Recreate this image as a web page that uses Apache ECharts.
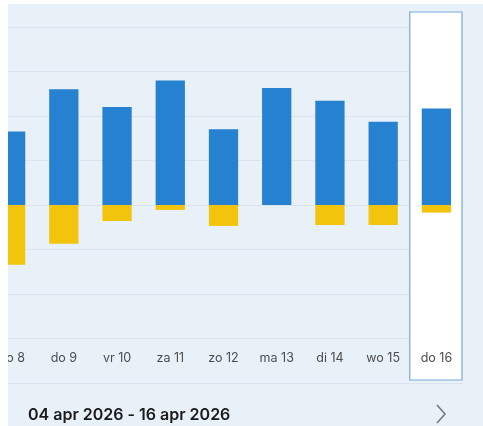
<!DOCTYPE html>
<html>
<head>
<meta charset="utf-8">
<script src="https://cdn.jsdelivr.net/npm/echarts@6/dist/echarts.min.js"></script>
<style>
  html, body { margin: 0; padding: 0; background: #ffffff; width: 483px; height: 426px; overflow: hidden; }
  #panel { position: absolute; left: 8px; top: 4px; width: 475px; height: 422px; background: #e8f0f8; overflow: hidden; }
  #chart { position: absolute; left: -24px; top: 0; width: 499px; height: 422px; }
</style>
</head>
<body>
<div id="panel"><div id="chart"></div></div>
<script>
// Visible days (first one partly scrolled out of view)
const categories = ['wo 8', 'do 9', 'vr 10', 'za 11', 'zo 12', 'ma 13', 'di 14', 'wo 15', 'do 16'];
// Blue (positive) values
const blueValues = [1.65, 2.60, 2.20, 2.80, 1.70, 2.63, 2.34, 1.87, 2.17];
// Yellow (negative) values
const yellowValues = [-1.34, -0.87, -0.36, -0.11, -0.47, 0, -0.45, -0.45, -0.17];
const selectedDay = 'do 16';
const periodLabel = '04 apr 2026 - 16 apr 2026';

const chart = echarts.init(document.getElementById('chart'));
const FONT = 'Inter, "Noto Sans", sans-serif';

chart.setOption({
  animation: false,
  grid: { left: 0, right: 20, top: 23, bottom: 43 },
  xAxis: {
    type: 'category',
    data: categories,
    z: 5,
    axisLine: { show: false },
    axisTick: { show: false },
    axisLabel: { inside: true, margin: 18, color: '#4d4d4d', fontSize: 12.5, fontFamily: FONT }
  },
  yAxis: {
    type: 'value',
    min: -4, max: 4, interval: 1,
    axisLabel: { show: false },
    axisLine: { show: false },
    axisTick: { show: false },
    splitLine: { show: true, lineStyle: { color: '#dbe4ee', width: 1 } }
  },
  series: [
    { type: 'bar', stack: 'day', data: blueValues, barWidth: '55%', z: 3,
      itemStyle: { color: '#2781d1' } },
    { type: 'bar', stack: 'day', data: yellowValues, barWidth: '55%', z: 3,
      itemStyle: { color: '#f2c40c' } }
  ]
});

// Highlight box around the selected day, positioned through the category axis
const cx = chart.convertToPixel({ xAxisIndex: 0 }, selectedDay);
const cNext = chart.convertToPixel({ xAxisIndex: 0 }, categories[categories.length - 2]);
const band = cx - cNext;
chart.setOption({
  graphic: [
    { type: 'rect', z: 1, shape: { x: cx - band / 2, y: 8, width: band - 1, height: 368 },
      style: { fill: '#ffffff', stroke: '#76a9dc', lineWidth: 1.2 } },
    { type: 'text', z: 10, left: 44, top: 403,
      style: { text: periodLabel, fill: '#1a1a1a', font: '600 16px ' + FONT } },
    { type: 'polyline', z: 10, shape: { points: [[453, 401], [461, 410], [453, 419]] },
      style: { stroke: '#7a7a7a', lineWidth: 1.6, fill: null } }
  ]
});
</script>
</body>
</html>
